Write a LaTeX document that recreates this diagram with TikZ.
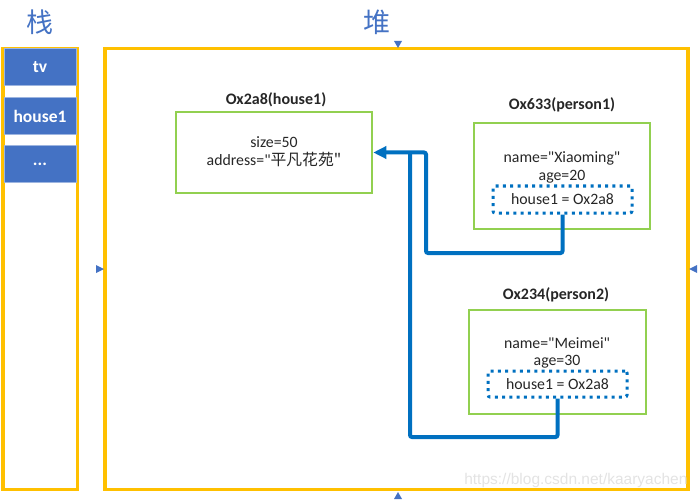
\documentclass[tikz,border=0pt]{standalone}
\usepackage{fontspec}
\setmainfont{Carlito}[Ligatures=TeXOff]
\newfontfamily\cjk{Noto Sans CJK SC}
\newfontfamily\wmfont{Liberation Sans}
\usetikzlibrary{arrows.meta}
\definecolor{frameorange}{HTML}{FFC000}
\definecolor{cellblue}{HTML}{4472C4}
\definecolor{celledge}{HTML}{9DB5E0}
\definecolor{objgreen}{HTML}{92D050}
\definecolor{refblue}{HTML}{0070C0}
\definecolor{labelblue}{HTML}{4472C4}
\definecolor{inktext}{HTML}{262626}
\tikzset{
  areaframe/.style={draw=frameorange, line width=3.5pt},
  cell/.style={fill=cellblue, draw=celledge, line width=1pt, text=white,
    font=\bfseries\fontsize{17.5}{19}\selectfont, minimum width=72pt, minimum height=37pt},
  arealabel/.style={font=\cjk\fontsize{27}{30}\selectfont, text=labelblue},
  objbox/.style={draw=objgreen, line width=2.5pt},
  objtitle/.style={font=\bfseries\fontsize{16}{18}\selectfont, text=inktext},
  field/.style={font=\fontsize{15.8}{18}\selectfont, text=inktext, inner sep=0pt},
  refbox/.style={draw=refblue, line width=3pt, dash pattern=on 3pt off 4.3pt,
    rounded corners=2pt, minimum width=139pt, inner sep=0pt,
    font=\fontsize{15.8}{18}\selectfont, text=inktext},
  refline/.style={draw=refblue, line width=4pt, rounded corners=2pt},
  handle/.style={fill=labelblue},
}
\begin{document}
\begin{tikzpicture}[x=1pt,y=-1pt]
\useasboundingbox (0,0) rectangle (699,500);
% stack
\node[areaframe, minimum width=74.5pt, minimum height=441pt] (stack) at (40.25,269) {};
\node[arealabel] (stacklabel) at (40,22) {栈};
\node[cell] (tv) at (40,67.5) {tv};
\node[cell] (house1) at (40,116.5) {house1};
\node[cell] (more) at (40,164.5) {...};
% heap
\node[areaframe, minimum width=583pt, minimum height=441pt] (heap) at (396.5,269) {};
\node[arealabel] (heaplabel) at (377,22) {堆};
\fill[handle] (394,41) -- (402,41) -- (398,48) -- cycle;
\fill[handle] (394,499) -- (402,499) -- (398,492) -- cycle;
\fill[handle] (96,265) -- (96,273) -- (104,269) -- cycle;
\fill[handle] (697,265) -- (697,273) -- (689,269) -- cycle;
% house object
\node[objtitle] (housetitle) at (276,100) {Ox2a8(house1)};
\node[objbox, minimum width=196pt, minimum height=81pt] (house) at (274,152.5) {};
\node[field] (hsize) at (274,142) {size=50};
\node[field] (haddr) at (274,160) {address="\cjk{平凡花苑}"};
% person1
\node[objtitle] (p1title) at (562,105) {Ox633(person1)};
\node[objbox, minimum width=176pt, minimum height=106pt] (p1) at (562,176) {};
\node[field] (p1name) at (562,158) {name="Xiaoming"};
\node[field] (p1age) at (562,177) {age=20};
\node[refbox, minimum height=27pt] (p1ref) at (562.5,199.5) {house1 = Ox2a8};
% person2
\node[objtitle] (p2title) at (556,295) {Ox234(person2)};
\node[objbox, minimum width=177pt, minimum height=104pt] (p2) at (557.5,362) {};
\node[field] (p2name) at (557,343) {name="Meimei"};
\node[field] (p2age) at (557,362) {age=30};
\node[refbox, minimum height=26pt] (p2ref) at (557.5,384) {house1 = Ox2a8};
% references
\coordinate (bend1) at (426,253);
\coordinate (bend2) at (410,437);
\draw[refline, -{Triangle[length=13pt,width=12pt]}] (p1ref.south) |- (bend1) |- (house.east);
\draw[refline] (p2ref.south) |- (bend2) -- (bend2 |- house.east);
\node[font=\wmfont\fontsize{15.5}{17}\selectfont, text=gray!22, anchor=east] (mark) at (691,480) {https://blog.csdn.net/kaaryachen};
\end{tikzpicture}
\end{document}
